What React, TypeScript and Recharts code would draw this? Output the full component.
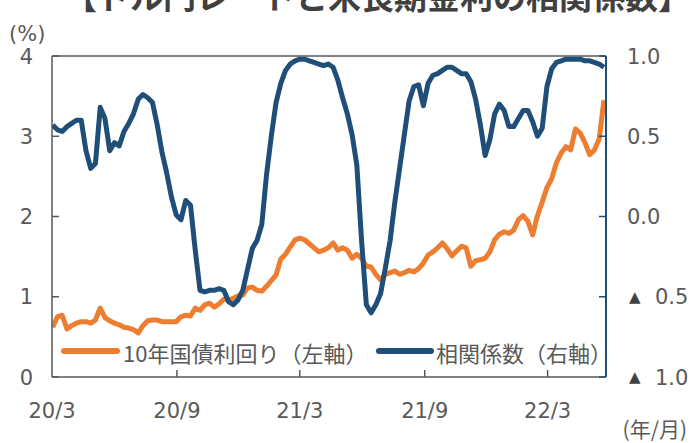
import React from 'react';
import { LineChart, Line, XAxis, YAxis, Legend, ReferenceLine } from 'recharts';

// Weekly observations, first week starting 2020-03-02
const START_DATE = '2020-03-02';
const AXIS_START = '2020-03-01';
const AXIS_END = '2022-05-26';

// 10-year government bond yield, % (left axis)
const yield10 = [
  0.62, 0.75, 0.77, 0.60, 0.64, 0.67, 0.69, 0.69, 0.67, 0.71,
  0.86, 0.74, 0.70, 0.67, 0.65, 0.62, 0.61, 0.59, 0.55, 0.64,
  0.70, 0.71, 0.71, 0.69, 0.69, 0.69, 0.69, 0.75, 0.77, 0.76,
  0.86, 0.83, 0.90, 0.92, 0.87, 0.91, 0.97, 0.96, 0.98, 1.01,
  1.02, 1.11, 1.12, 1.08, 1.07, 1.13, 1.20, 1.27, 1.47, 1.53,
  1.62, 1.71, 1.73, 1.71, 1.66, 1.61, 1.56, 1.58, 1.61, 1.67,
  1.58, 1.61, 1.58, 1.48, 1.53, 1.48, 1.38, 1.37, 1.28, 1.21,
  1.28, 1.30, 1.32, 1.28, 1.30, 1.33, 1.31, 1.35, 1.42, 1.52,
  1.56, 1.61, 1.67, 1.60, 1.51, 1.57, 1.63, 1.61, 1.38, 1.45,
  1.46, 1.48, 1.56, 1.71, 1.78, 1.81, 1.79, 1.83, 1.96, 2.01,
  1.94, 1.77, 2.01, 2.18, 2.36, 2.47, 2.67, 2.79, 2.87, 2.83,
  3.09, 3.04, 2.92, 2.77, 2.83, 2.97, 3.45,
];

// correlation coefficient (right axis)
const corr = [
  0.57, 0.54, 0.53, 0.56, 0.58, 0.60, 0.60, 0.41, 0.30, 0.33,
  0.68, 0.61, 0.41, 0.46, 0.44, 0.53, 0.58, 0.64, 0.73, 0.76,
  0.74, 0.71, 0.57, 0.40, 0.27, 0.12, 0.01, -0.02, 0.10, 0.07,
  -0.21, -0.46, -0.47, -0.46, -0.46, -0.45, -0.46, -0.53, -0.55, -0.52,
  -0.46, -0.33, -0.20, -0.15, -0.05, 0.26, 0.50, 0.71, 0.83, 0.91,
  0.95, 0.97, 0.98, 0.98, 0.97, 0.96, 0.95, 0.94, 0.95, 0.93,
  0.85, 0.74, 0.64, 0.51, 0.32, -0.15, -0.55, -0.60, -0.55, -0.48,
  -0.32, -0.15, 0.09, 0.30, 0.51, 0.72, 0.81, 0.82, 0.69, 0.83,
  0.88, 0.89, 0.91, 0.93, 0.93, 0.91, 0.89, 0.89, 0.84, 0.73,
  0.57, 0.38, 0.48, 0.64, 0.70, 0.66, 0.56, 0.56, 0.61, 0.66,
  0.66, 0.59, 0.50, 0.55, 0.81, 0.92, 0.96, 0.97, 0.98, 0.98,
  0.98, 0.98, 0.97, 0.97, 0.96, 0.95, 0.93,
];

const xTickDates = ['2020-03-01', '2020-09-01', '2021-03-01', '2021-09-01', '2022-03-01'];
const xTickLabels = ['20/3', '20/9', '21/3', '21/9', '22/3'];
const leftTicks = [0, 1, 2, 3, 4];
const rightTicks = [-1, -0.5, 0, 0.5, 1];

const TITLE = '【ドル円レートと米長期金利の相関係数】';
const SERIES_NAMES = ['10年国債利回り（左軸）', '相関係数（右軸）'];

const ORANGE = '#ED7D31';
const BLUE = '#1F4E79';
const GRAY = '#595959';
const NUM_FONT = "'DejaVu Sans', 'Noto Sans CJK JP', sans-serif";
const JP_FONT = "'Noto Sans CJK JP', sans-serif";

const DAY = 86400000;
const dayOf = (s: string) => {
  const [y, m, d] = s.split('-').map(Number);
  const [y0, m0, d0] = AXIS_START.split('-').map(Number);
  return Math.round((Date.UTC(y, m - 1, d) - Date.UTC(y0, m0 - 1, d0)) / DAY);
};

const startDay = dayOf(START_DATE);
const data = yield10.map((v, i) => ({ t: startDay + 7 * i, yield10: v, corr: corr[i] }));
const xTicks = xTickDates.map(dayOf);

const LeftTick = (props: any) => {
  const { x, y, payload } = props;
  return (
    <g>
      <line x1={x + 19} x2={x + 26} y1={y} y2={y} stroke={GRAY} strokeWidth={1.5} />
      <text x={x} y={y} dy="0.36em" textAnchor="end" fill={GRAY} fontSize={21} fontFamily={NUM_FONT}>
        {payload.value}
      </text>
    </g>
  );
};

const RightTick = (props: any) => {
  const { x, y, payload } = props;
  const v = payload.value as number;
  const abs = Math.abs(v).toFixed(1);
  return (
    <g>
      <line x1={x - 21} x2={x - 28} y1={y} y2={y} stroke={BLUE} strokeWidth={1.5} />
      {v < 0 && (
        <text x={x + 2} y={y + 5} textAnchor="start" fill="#404040" fontSize={15} fontFamily={NUM_FONT}>
          ▲
        </text>
      )}
      <text
        x={v < 0 ? x + 28 : x}
        y={y}
        dy="0.36em"
        textAnchor="start"
        fill={GRAY}
        fontSize={21}
        fontFamily={NUM_FONT}
      >
        {abs}
      </text>
    </g>
  );
};

const BottomTick = (props: any) => {
  const { x, y, payload, index } = props;
  const i = xTicks.indexOf(payload.value);
  return (
    <g>
      {index > 0 && <line x1={x} x2={x} y1={y - 26} y2={y - 33} stroke={GRAY} strokeWidth={1.5} />}
      <text x={x} y={y} dy="0.71em" textAnchor="middle" fill={GRAY} fontSize={21} fontFamily={NUM_FONT}>
        {xTickLabels[i >= 0 ? i : 0]}
      </text>
    </g>
  );
};

const LegendContent = () => (
  <svg width={690} height={34} style={{ display: 'block' }}>
    <line x1={64} x2={117} y1={15} y2={15} stroke={ORANGE} strokeWidth={6} strokeLinecap="round" />
    <text x={123} y={26} fill={GRAY} fontSize={22} fontFamily={JP_FONT}>
      {SERIES_NAMES[0]}
    </text>
    <line x1={379} x2={431} y1={15} y2={15} stroke={BLUE} strokeWidth={6} strokeLinecap="round" />
    <text x={436} y={26} fill={GRAY} fontSize={22} fontFamily={JP_FONT}>
      {SERIES_NAMES[1]}
    </text>
  </svg>
);

export default function App() {
  return (
    <div style={{ position: 'absolute', left: 0, top: 0, width: 690, height: 443, background: '#fff' }}>
      <LineChart width={690} height={443} data={data} margin={{ top: 56, right: 0, bottom: 0, left: 0 }}>
        <XAxis
          dataKey="t"
          type="number"
          domain={[0, dayOf(AXIS_END)]}
          ticks={xTicks}
          interval={0}
          height={66}
          tickLine={false}
          tickSize={0}
          tickMargin={26}
          tick={<BottomTick />}
          axisLine={{ stroke: GRAY, strokeWidth: 1.5 }}
          allowDataOverflow
        />
        <YAxis
          yAxisId="left"
          orientation="left"
          domain={[0, 4]}
          ticks={leftTicks}
          interval={0}
          width={52}
          tickLine={false}
          tickSize={0}
          tickMargin={19}
          tick={<LeftTick />}
          axisLine={{ stroke: GRAY, strokeWidth: 1.5 }}
        />
        <YAxis
          yAxisId="right"
          orientation="right"
          domain={[-1, 1]}
          ticks={rightTicks}
          interval={0}
          width={84}
          tickLine={false}
          tickSize={0}
          tickMargin={21}
          tick={<RightTick />}
          axisLine={{ stroke: BLUE, strokeWidth: 2 }}
        />
        <ReferenceLine yAxisId="left" y={4} stroke={GRAY} strokeWidth={1.5} />
        <Legend
          layout="horizontal"
          verticalAlign="middle"
          align="center"
          content={<LegendContent />}
          wrapperStyle={{ position: 'absolute', left: 0, top: 336, width: 690, height: 34 }}
        />
        <Line
          yAxisId="left"
          dataKey="yield10"
          name={SERIES_NAMES[0]}
          type="linear"
          stroke={ORANGE}
          strokeWidth={5}
          strokeLinejoin="round"
          dot={false}
          activeDot={false}
          isAnimationActive={false}
        />
        <Line
          yAxisId="right"
          dataKey="corr"
          name={SERIES_NAMES[1]}
          type="linear"
          stroke={BLUE}
          strokeWidth={5}
          strokeLinejoin="round"
          dot={false}
          activeDot={false}
          isAnimationActive={false}
        />
      </LineChart>
      <svg
        width={690}
        height={443}
        style={{ position: 'absolute', left: 0, top: 0, pointerEvents: 'none' }}
      >
        <text x={64} y={9} fill="#404040" fontSize={33} fontWeight="bold" fontFamily={JP_FONT}>
          {TITLE}
        </text>
        <text x={9} y={41} fill={GRAY} fontSize={21} fontFamily={NUM_FONT}>(%)</text>
        <text x={687} y={437} textAnchor="end" fill={GRAY} fontSize={21} fontFamily={JP_FONT}>(年/月)</text>
      </svg>
    </div>
  );
}
